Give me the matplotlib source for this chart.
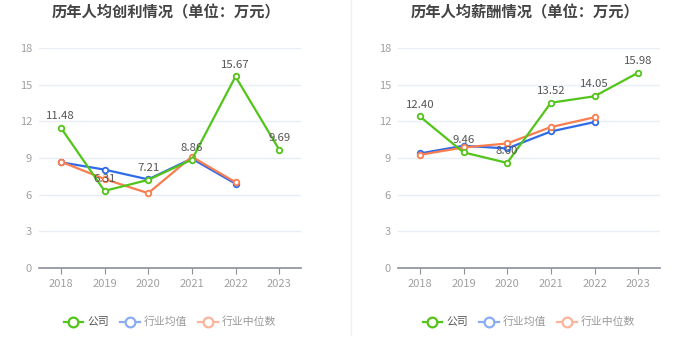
import matplotlib
matplotlib.use("Agg")
import matplotlib.pyplot as plt
from matplotlib.lines import Line2D

plt.rcParams['font.family'] = ['Noto Sans CJK SC', 'DejaVu Sans']

years = ['2018', '2019', '2020', '2021', '2022', '2023']

profit_company = [11.48, 6.31, 7.21, 8.86, 15.67, 9.69]
profit_avg = [8.65, 8.05, 7.25, 8.95, 6.9]
profit_median = [8.7, 7.28, 6.12, 9.1, 7.02]

salary_company = [12.40, 9.46, 8.60, 13.52, 14.05, 15.98]
salary_avg = [9.37, 10.0, 9.78, 11.17, 11.94]
salary_median = [9.26, 9.86, 10.19, 11.53, 12.33]

titles = ['历年人均创利情况（单位：万元）', '历年人均薪酬情况（单位：万元）']
legend_labels = ['公司', '行业均值', '行业中位数']
yticks = [0, 3, 6, 9, 12, 15, 18]

GREEN = '#52c41a'
BLUE = '#2f6be8'
ORANGE = '#fa7d4f'
GREEN_L = '#52c41a'
BLUE_L = '#8aacf3'
ORANGE_L = '#fcb49a'

W, H = 699, 359
fig = plt.figure(figsize=(W / 100, H / 100), dpi=100)
fig.patch.set_facecolor('white')

# separator
fig.add_artist(Line2D([351 / W, 351 / W], [1 - 335 / H, 1.0], color='#eeeeee', lw=1))

panels = [
    (39, titles[0], profit_company, profit_avg, profit_median),
    (398, titles[1], salary_company, salary_avg, salary_median),
]

for left_px, title, comp, avg, med in panels:
    ax = fig.add_axes([left_px / W, (H - 268) / H, 262 / W, 220 / H])
    x_all = list(range(len(years)))
    x5 = x_all[:len(avg)]
    mk = dict(marker='o', markersize=4, markerfacecolor='white', markeredgewidth=1.3)
    ax.plot(x5, avg, color=BLUE, lw=1.6, zorder=3, **mk)
    ax.plot(x5, med, color=ORANGE, lw=1.6, zorder=4, **mk)
    ax.plot(x_all, comp, color=GREEN, lw=1.6, zorder=5, **mk)
    for xi, v in zip(x_all, comp):
        ax.annotate(f'{v:.2f}', (xi, v), xytext=(0, 5), textcoords='offset points',
                    ha='center', va='bottom', fontsize=8.2, color='#555555', zorder=6)
    ax.set_xlim(-0.5, 5.5)
    ax.set_ylim(0, 18)
    ax.set_yticks(yticks)
    ax.set_xticks(x_all)
    ax.set_xticklabels(years)
    ax.grid(axis='y', color='#e9eef6', lw=1)
    ax.set_axisbelow(True)
    for s in ['top', 'right', 'left']:
        ax.spines[s].set_visible(False)
    ax.spines['bottom'].set_color('#8c9099')
    ax.spines['bottom'].set_linewidth(1.2)
    ax.tick_params(axis='y', length=0, labelsize=8, labelcolor='#a0a0a0', pad=5)
    ax.tick_params(axis='x', length=4, color='#8c9099', labelsize=8, labelcolor='#a0a0a0', pad=4)
    cx = (left_px + 131) / W
    fig.text(cx - 4 / W, 1 - 12 / H, title, ha='center', va='center', fontsize=11,
             fontweight='bold', color='#444444')
    handles = [
        Line2D([], [], color=GREEN_L, lw=1.6, marker='o', markersize=7, markerfacecolor='white', markeredgewidth=1.6),
        Line2D([], [], color=BLUE_L, lw=1.6, marker='o', markersize=7, markerfacecolor='white', markeredgewidth=1.6),
        Line2D([], [], color=ORANGE_L, lw=1.6, marker='o', markersize=7, markerfacecolor='white', markeredgewidth=1.6),
    ]
    leg = fig.legend(handles, legend_labels, loc='center', bbox_to_anchor=(cx, 1 - 322 / H),
                     ncol=3, frameon=False, fontsize=7.8, handlelength=1.8, handletextpad=0.4,
                     columnspacing=1.0)
    for i, t in enumerate(leg.get_texts()):
        t.set_color('#555555' if i == 0 else '#999999')

fig.savefig('out.png', dpi=100)
